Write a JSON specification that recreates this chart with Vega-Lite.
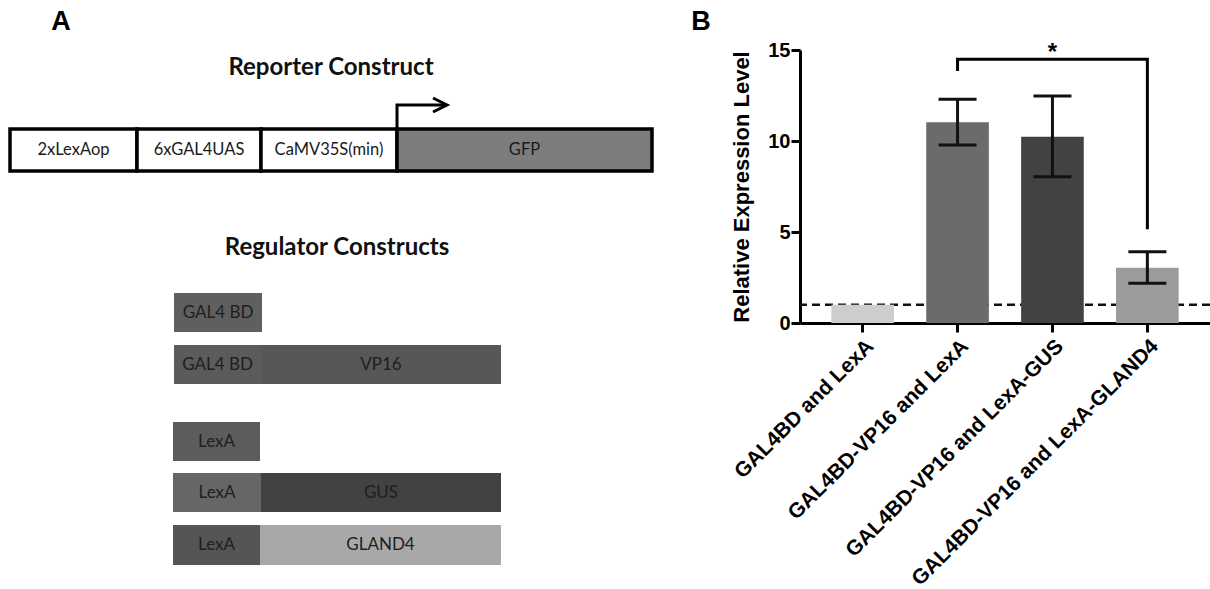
{
  "$schema": "https://vega.github.io/schema/vega-lite/v6.json",
  "padding": 0,
  "background": "white",
  "bounds": "flush",
  "spacing": 80,
  "config": {"view": {"stroke": null}},
  "datasets": {
    "reporter": [
      {"part": "2xLexAop", "start": 10, "end": 137, "top": 129, "bottom": 171},
      {"part": "6xGAL4UAS", "start": 137, "end": 261, "top": 129, "bottom": 171},
      {"part": "CaMV35S(min)", "start": 261, "end": 397, "top": 129, "bottom": 171},
      {"part": "GFP", "start": 397, "end": 652, "top": 129, "bottom": 171}
    ],
    "arrow": [
      {"step": 1, "px": 397, "py": 129},
      {"step": 2, "px": 397, "py": 105},
      {"step": 3, "px": 445, "py": 105}
    ],
    "arrowhead": [{"px": 447, "py": 105}],
    "regulators": [
      {"id": "r1a", "label": "GAL4 BD", "start": 174, "end": 262, "top": 293, "bottom": 332},
      {"id": "r2a", "label": "GAL4 BD", "start": 174, "end": 261, "top": 345, "bottom": 384},
      {"id": "r2b", "label": "VP16", "start": 261, "end": 501, "top": 345, "bottom": 384},
      {"id": "r3a", "label": "LexA", "start": 173, "end": 260, "top": 422, "bottom": 461},
      {"id": "r4a", "label": "LexA", "start": 173, "end": 261, "top": 473, "bottom": 512},
      {"id": "r4b", "label": "GUS", "start": 261, "end": 501, "top": 473, "bottom": 512},
      {"id": "r5a", "label": "LexA", "start": 173, "end": 260, "top": 525, "bottom": 565},
      {"id": "r5b", "label": "GLAND4", "start": 260, "end": 501, "top": 525, "bottom": 565}
    ],
    "headings": [
      {"text": "Reporter Construct", "px": 331, "py": 68},
      {"text": "Regulator Constructs", "px": 337, "py": 248}
    ],
    "letters": [
      {"text": "A", "px": 61, "py": 22},
      {"text": "B", "px": 701, "py": 22}
    ],
    "expr": [
      {"group": "GAL4BD and LexA", "mean": 1.0},
      {"group": "GAL4BD-VP16 and LexA", "mean": 11.03, "lo": 9.78, "hi": 12.29},
      {"group": "GAL4BD-VP16 and LexA-GUS", "mean": 10.24, "lo": 8.04, "hi": 12.47},
      {"group": "GAL4BD-VP16 and LexA-GLAND4", "mean": 3.04, "lo": 2.18, "hi": 3.92}
    ],
    "bracket": [
      {"group": "GAL4BD-VP16 and LexA", "level": 13.85, "step": 1},
      {"group": "GAL4BD-VP16 and LexA", "level": 14.49, "step": 2},
      {"group": "GAL4BD-VP16 and LexA-GLAND4", "level": 14.49, "step": 3},
      {"group": "GAL4BD-VP16 and LexA-GLAND4", "level": 5.15, "step": 4}
    ],
    "star": [{"group": "GAL4BD-VP16 and LexA-GUS", "level": 14.85, "label": "*"}],
    "baseline": [{"ref": 1}]
  },
  "resolve": {"scale": {"x": "independent", "y": "independent", "color": "independent"}},
  "hconcat": [
    {
      "width": 720,
      "height": 589,
      "resolve": {"scale": {"color": "independent"}},
      "layer": [
        {
          "data": {"name": "reporter"},
          "mark": {"type": "rect", "stroke": "#000", "strokeWidth": 3.5},
          "encoding": {
            "x": {"field": "start", "type": "quantitative", "scale": {"domain": [0, 720], "nice": false, "zero": false}, "axis": null},
            "x2": {"field": "end"},
            "y": {"field": "top", "type": "quantitative", "scale": {"domain": [0, 589], "nice": false, "zero": false, "reverse": true}, "axis": null},
            "y2": {"field": "bottom"},
            "color": {"field": "part", "type": "nominal", "scale": {"domain": ["2xLexAop", "6xGAL4UAS", "CaMV35S(min)", "GFP"], "range": ["#ffffff", "#ffffff", "#ffffff", "#7d7d7d"]}, "legend": null}
          }
        },
        {
          "data": {"name": "reporter"},
          "transform": [
            {"calculate": "(datum.start + datum.end) / 2", "as": "mid"},
            {"calculate": "(datum.top + datum.bottom) / 2", "as": "ymid"}
          ],
          "mark": {"type": "text", "font": "Lato", "fontSize": 16.5, "color": "#1a1a1a", "align": "center", "baseline": "middle"},
          "encoding": {
            "x": {"field": "mid", "type": "quantitative", "scale": {"domain": [0, 720], "nice": false, "zero": false}, "axis": null},
            "y": {"field": "ymid", "type": "quantitative", "scale": {"domain": [0, 589], "nice": false, "zero": false, "reverse": true}, "axis": null},
            "text": {"field": "part"}
          }
        },
        {
          "data": {"name": "arrow"},
          "mark": {"type": "line", "color": "#000", "strokeWidth": 3, "strokeCap": "square"},
          "encoding": {
            "x": {"field": "px", "type": "quantitative", "scale": {"domain": [0, 720], "nice": false, "zero": false}, "axis": null},
            "y": {"field": "py", "type": "quantitative", "scale": {"domain": [0, 589], "nice": false, "zero": false, "reverse": true}, "axis": null},
            "order": {"field": "step"}
          }
        },
        {
          "data": {"name": "arrowhead"},
          "mark": {"type": "point", "shape": "M-2,-1L0,0L-2,1", "size": 196, "filled": false, "stroke": "#000", "strokeWidth": 3, "opacity": 1},
          "encoding": {
            "x": {"field": "px", "type": "quantitative", "scale": {"domain": [0, 720], "nice": false, "zero": false}, "axis": null},
            "y": {"field": "py", "type": "quantitative", "scale": {"domain": [0, 589], "nice": false, "zero": false, "reverse": true}, "axis": null}
          }
        },
        {
          "data": {"name": "regulators"},
          "mark": {"type": "rect"},
          "encoding": {
            "x": {"field": "start", "type": "quantitative", "scale": {"domain": [0, 720], "nice": false, "zero": false}, "axis": null},
            "x2": {"field": "end"},
            "y": {"field": "top", "type": "quantitative", "scale": {"domain": [0, 589], "nice": false, "zero": false, "reverse": true}, "axis": null},
            "y2": {"field": "bottom"},
            "color": {"field": "id", "type": "nominal", "scale": {"domain": ["r1a", "r2a", "r2b", "r3a", "r4a", "r4b", "r5a", "r5b"], "range": ["#5f5f5f", "#5b5b5b", "#575757", "#5c5c5c", "#666666", "#424242", "#555555", "#a8a8a8"]}, "legend": null}
          }
        },
        {
          "data": {"name": "regulators"},
          "transform": [
            {"calculate": "(datum.start + datum.end) / 2", "as": "mid"},
            {"calculate": "(datum.top + datum.bottom) / 2", "as": "ymid"}
          ],
          "mark": {"type": "text", "font": "Lato", "fontSize": 17, "color": "#1e1e1e", "align": "center", "baseline": "middle"},
          "encoding": {
            "x": {"field": "mid", "type": "quantitative", "scale": {"domain": [0, 720], "nice": false, "zero": false}, "axis": null},
            "y": {"field": "ymid", "type": "quantitative", "scale": {"domain": [0, 589], "nice": false, "zero": false, "reverse": true}, "axis": null},
            "text": {"field": "label"}
          }
        },
        {
          "data": {"name": "headings"},
          "mark": {"type": "text", "font": "Lato", "fontSize": 24, "fontWeight": "bold", "color": "#111", "align": "center", "baseline": "middle"},
          "encoding": {
            "x": {"field": "px", "type": "quantitative", "scale": {"domain": [0, 720], "nice": false, "zero": false}, "axis": null},
            "y": {"field": "py", "type": "quantitative", "scale": {"domain": [0, 589], "nice": false, "zero": false, "reverse": true}, "axis": null},
            "text": {"field": "text"}
          }
        },
        {
          "data": {"name": "letters"},
          "mark": {"type": "text", "font": "Liberation Sans", "fontSize": 27, "fontWeight": "bold", "color": "#000", "align": "center", "baseline": "middle"},
          "encoding": {
            "x": {"field": "px", "type": "quantitative", "scale": {"domain": [0, 720], "nice": false, "zero": false}, "axis": null},
            "y": {"field": "py", "type": "quantitative", "scale": {"domain": [0, 589], "nice": false, "zero": false, "reverse": true}, "axis": null},
            "text": {"field": "text"}
          }
        }
      ]
    },
    {
      "width": 410,
      "height": 323,
      "layer": [
        {
          "data": {"name": "baseline"},
          "mark": {"type": "rule", "color": "#111", "strokeWidth": 2.5, "strokeDash": [8, 5]},
          "encoding": {
            "y": {"field": "ref", "type": "quantitative", "title": "Relative Expression Level", "scale": {"domain": [0, 15], "range": [323, 50], "nice": false, "zero": true}}
          }
        },
        {
          "data": {"name": "expr"},
          "mark": {"type": "bar"},
          "encoding": {
            "x": {
              "field": "group", "type": "nominal",
              "scale": {"domain": ["GAL4BD and LexA", "GAL4BD-VP16 and LexA", "GAL4BD-VP16 and LexA-GUS", "GAL4BD-VP16 and LexA-GLAND4"], "paddingInner": 0.34, "paddingOuter": 0.33},
              "axis": {"title": null, "labelAngle": -45, "labelFont": "Liberation Sans", "labelFontSize": 21, "labelFontWeight": "bold", "labelColor": "#000", "labelLimit": 0, "labelOverlap": false, "labelPadding": 3, "tickSize": 9, "tickWidth": 3, "tickColor": "#000", "domainColor": "#000", "domainWidth": 3}
            },
            "y": {
              "field": "mean", "type": "quantitative", "title": "Relative Expression Level",
              "axis": {"values": [0, 5, 10, 15], "grid": false, "titleFont": "Liberation Sans", "titleFontSize": 22, "titleFontWeight": "bold", "titleColor": "#000", "titlePadding": 14, "labelFont": "Liberation Sans", "labelFontSize": 20, "labelFontWeight": "bold", "labelColor": "#000", "labelPadding": 1, "tickSize": 9, "tickWidth": 3, "tickColor": "#000", "domainColor": "#000", "domainWidth": 3}
            },
            "color": {"field": "group", "type": "nominal", "scale": {"domain": ["GAL4BD and LexA", "GAL4BD-VP16 and LexA", "GAL4BD-VP16 and LexA-GUS", "GAL4BD-VP16 and LexA-GLAND4"], "range": ["#cdcdcd", "#6b6b6b", "#424242", "#9b9b9b"]}, "legend": null}
          }
        },
        {
          "data": {"name": "expr"},
          "transform": [{"filter": "isValid(datum.lo)"}],
          "mark": {"type": "rule", "color": "#111", "strokeWidth": 3},
          "encoding": {
            "x": {"field": "group", "type": "nominal"},
            "y": {"field": "lo", "type": "quantitative", "title": "Relative Expression Level"},
            "y2": {"field": "hi"}
          }
        },
        {
          "data": {"name": "expr"},
          "transform": [{"filter": "isValid(datum.lo)"}],
          "mark": {"type": "tick", "color": "#111", "thickness": 3, "size": 38, "opacity": 1},
          "encoding": {
            "x": {"field": "group", "type": "nominal"},
            "y": {"field": "lo", "type": "quantitative", "title": "Relative Expression Level"}
          }
        },
        {
          "data": {"name": "expr"},
          "transform": [{"filter": "isValid(datum.hi)"}],
          "mark": {"type": "tick", "color": "#111", "thickness": 3, "size": 38, "opacity": 1},
          "encoding": {
            "x": {"field": "group", "type": "nominal"},
            "y": {"field": "hi", "type": "quantitative", "title": "Relative Expression Level"}
          }
        },
        {
          "data": {"name": "bracket"},
          "mark": {"type": "line", "color": "#000", "strokeWidth": 3, "strokeJoin": "miter"},
          "encoding": {
            "x": {"field": "group", "type": "nominal"},
            "y": {"field": "level", "type": "quantitative", "title": "Relative Expression Level"},
            "order": {"field": "step"}
          }
        },
        {
          "data": {"name": "star"},
          "mark": {"type": "text", "font": "Liberation Sans", "fontSize": 24, "fontWeight": "bold", "color": "#000", "baseline": "middle", "align": "center"},
          "encoding": {
            "x": {"field": "group", "type": "nominal"},
            "y": {"field": "level", "type": "quantitative", "title": "Relative Expression Level"},
            "text": {"field": "label"}
          }
        }
      ]
    }
  ]
}
